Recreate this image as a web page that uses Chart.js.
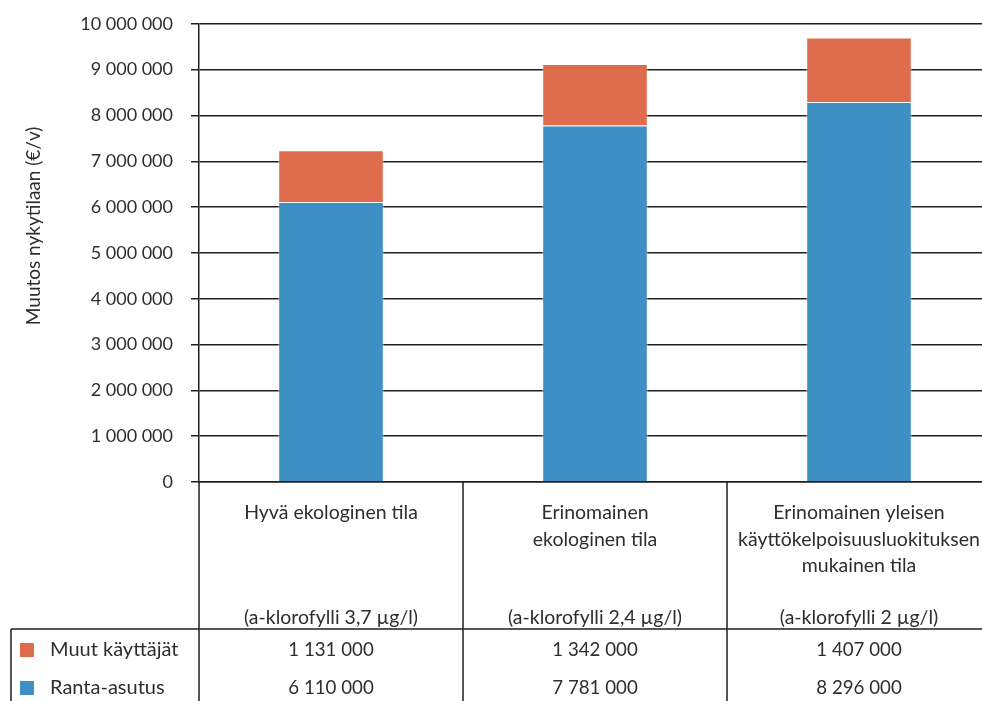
<!DOCTYPE html>
<html>
<head>
<meta charset="utf-8">
<script src="https://cdn.jsdelivr.net/npm/chart.js@4/dist/chart.umd.min.js"></script>
<style>
  html, body { margin: 0; padding: 0; background: #fff; overflow: hidden; }
  #outer { position: relative; width: 982px; height: 701px; overflow: hidden; }
  #wrap { position: absolute; left: 0; top: -5px; width: 1000px; height: 706px; }
</style>
</head>
<body>
<div id="outer"><div id="wrap"><canvas id="c"></canvas></div></div>
<script>
const categories = [
  ["Hyvä ekologinen tila", "", "", "", "(a-klorofylli 3,7 µg/l)"],
  ["Erinomainen", "ekologinen tila", "", "", "(a-klorofylli 2,4 µg/l)"],
  ["Erinomainen yleisen", "käyttökelpoisuusluokituksen", "mukainen tila", "", "(a-klorofylli 2 µg/l)"]
];
const seriesNames = ["Ranta-asutus", "Muut käyttäjät"];
const rantaAsutus = [6110000, 7781000, 8296000];
const muutKayttajat = [1131000, 1342000, 1407000];
const yTitle = "Muutos nykytilaan (€/v)";
const yMin = 0, yMax = 10000000, yStep = 1000000;

const COLORS = { ranta: "#3d8fc4", muut: "#e06c4e" };
const FONT = "Lato, 'Liberation Sans', sans-serif";
const TEXT = "#2e2e2e";
const LINE = "#1f1f1f";

function fmt(v) {
  return String(Math.round(v)).replace(/\B(?=(\d{3})+(?!\d))/g, " ");
}

const tablePlugin = {
  id: "dataTable",
  afterDraw(chart) {
    const ctx = chart.ctx;
    const xs = chart.scales.x;
    const area = chart.chartArea;
    const H = chart.height, W = chart.width;
    const n = categories.length;
    const centers = categories.map((_, i) => xs.getPixelForValue(i));
    const half = (centers[1] - centers[0]) / 2;
    const bounds = centers.map(c => c - half).concat([centers[n - 1] + half]);
    const tableTop = xs.bottom;
    const leftEdge = 11;

    ctx.save();
    ctx.strokeStyle = LINE;
    ctx.lineWidth = 1.5;
    ctx.beginPath();
    bounds.forEach(b => {
      ctx.moveTo(b, area.bottom);
      ctx.lineTo(b, H);
    });
    ctx.moveTo(leftEdge, tableTop);
    ctx.lineTo(W, tableTop);
    ctx.moveTo(leftEdge, tableTop);
    ctx.lineTo(leftEdge, H);
    ctx.stroke();

    // rows: top row = last dataset (Muut), then Ranta
    const rows = chart.data.datasets.slice().reverse();
    const rowY = [tableTop + 21, tableTop + 59];
    ctx.textBaseline = "middle";
    rows.forEach((ds, r) => {
      const y = rowY[r];
      ctx.fillStyle = ds.backgroundColor;
      ctx.fillRect(20, y - 7, 14, 14);
      ctx.fillStyle = TEXT;
      ctx.textAlign = "left";
      ctx.font = "20px " + FONT;
      ctx.fillText(ds.label, 50, y);
      ctx.textAlign = "center";
      ctx.font = "18.7px " + FONT;
      ds.data.forEach((v, i) => ctx.fillText(fmt(v), centers[i], y));
    });

    // y-axis title (slightly above the plot centre, as in the original)
    ctx.save();
    ctx.translate(34, (area.top + area.bottom) / 2 - 27);
    ctx.rotate(-Math.PI / 2);
    ctx.textAlign = "center";
    ctx.textBaseline = "middle";
    ctx.fillStyle = TEXT;
    ctx.font = "19px " + FONT;
    ctx.fillText(yTitle, 0, 0);
    ctx.restore();
    ctx.restore();
  }
};

new Chart(document.getElementById("c"), {
  type: "bar",
  data: {
    labels: categories,
    datasets: [
      { label: seriesNames[0], data: rantaAsutus, backgroundColor: COLORS.ranta,
        borderColor: "rgba(255,255,255,0.45)", borderWidth: 1,
        categoryPercentage: 1, barPercentage: 0.4 },
      { label: seriesNames[1], data: muutKayttajat, backgroundColor: COLORS.muut,
        borderColor: "rgba(255,255,255,0.45)", borderWidth: 1,
        categoryPercentage: 1, barPercentage: 0.4 }
    ]
  },
  options: {
    responsive: true,
    maintainAspectRatio: false,
    animation: false,
    layout: { padding: { left: 0, top: 19, right: 9, bottom: 72 } },
    plugins: { legend: { display: false }, tooltip: { enabled: false } },
    scales: {
      x: {
        stacked: true,
        grid: { display: false },
        border: { display: true, color: LINE, width: 1.5 },
        ticks: {
          color: TEXT, padding: 10, maxRotation: 0, autoSkip: false,
          font: { family: FONT, size: 19.5, lineHeight: "26.2px" }
        },
        afterFit: s => { s.height = 147; }
      },
      y: {
        stacked: true,
        min: yMin, max: yMax,
        grid: { color: LINE, lineWidth: 1.5, tickLength: 8, drawTicks: true },
        border: { display: true, color: LINE, width: 1.5 },
        ticks: {
          stepSize: yStep, color: TEXT, padding: 18,
          font: { family: FONT, size: 18 },
          callback: v => fmt(v)
        },
        title: { display: false },
        afterFit: s => { s.width = 199; }
      }
    }
  },
  plugins: [tablePlugin]
});
</script>
</body>
</html>
